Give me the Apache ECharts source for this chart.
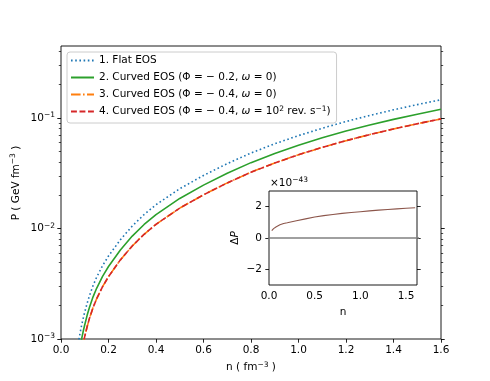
<!DOCTYPE html>
<html><head><meta charset="utf-8">
<script src="https://cdn.jsdelivr.net/npm/echarts@6/dist/echarts.min.js"></script>
<style>html,body{margin:0;padding:0;background:#fff}#c{width:490px;height:381px}</style>
</head><body><div id="c"></div>
<script>
// ---- data ----
const nMain = [0.07,0.075,0.08,0.085,0.09,0.095,0.1,0.11,0.12,0.135,0.15,0.175,0.2,0.25,0.3,0.35,0.4,0.5,0.6,0.7,0.8,0.9,1.0,1.1,1.2,1.3,1.4,1.5,1.6];
const pFlat = [0.000832,0.000977,0.001122,0.001274,0.001429,0.001589,0.001752,0.002106,0.002475,0.003044,0.003618,0.004608,0.005636,0.007913,0.01052,0.01337,0.01641,0.02291,0.0302,0.03864,0.0482,0.0584,0.0693,0.0808,0.0929,0.1054,0.1185,0.1321,0.1462];
const pCurved2 = [null,null,0.00083,0.000955,0.001082,0.001213,0.001347,0.001637,0.00194,0.002406,0.002877,0.003689,0.004532,0.006399,0.008536,0.01087,0.01337,0.0187,0.02467,0.03159,0.03943,0.0478,0.05674,0.06617,0.07609,0.08634,0.09708,0.1082,0.1198];
const pCurved3 = [null,null,null,null,0.000837,0.000945,0.001055,0.001292,0.00154,0.001923,0.002309,0.002975,0.003666,0.005197,0.00695,0.008866,0.01091,0.01528,0.02018,0.02585,0.03228,0.03915,0.04648,0.05421,0.06234,0.07075,0.07956,0.08867,0.09819];
const pCurved4 = [null,null,null,null,0.000837,0.000945,0.001055,0.001292,0.00154,0.001923,0.002309,0.002975,0.003666,0.005197,0.00695,0.008866,0.01091,0.01528,0.02018,0.02585,0.03228,0.03915,0.04648,0.05421,0.06234,0.07075,0.07956,0.08867,0.09819];
const nInset = [0.03,0.05,0.08,0.12,0.16,0.2,0.3,0.4,0.5,0.6,0.7,0.8,0.9,1.0,1.1,1.2,1.3,1.4,1.5,1.6];
const dP = [0.47,0.60,0.72,0.84,0.92,0.97,1.10,1.22,1.34,1.43,1.50,1.57,1.63,1.68,1.73,1.78,1.82,1.86,1.895,1.93];
const zeroLineX = [-0.035, 1.655];
const zeroLineY = [0, 0];
const seriesNames = ['1. Flat EOS','2. Curved EOS','3. Curved EOS','4. Curved EOS'];
const legendLabels = {
  '1. Flat EOS': '1. Flat EOS',
  '2. Curved EOS': '2. Curved EOS (Φ = − 0.2, {i|ω} = 0)',
  '3. Curved EOS': '3. Curved EOS (Φ = − 0.4, {i|ω} = 0)',
  '4. Curved EOS': '4. Curved EOS (Φ = − 0.4, {i|ω} = 10{sup|2} rev. s{sup|−1})'
};
const yMajor = [0.001, 0.01, 0.1];
const yMinor = [0.002,0.003,0.004,0.005,0.006,0.007,0.008,0.009,0.02,0.03,0.04,0.05,0.06,0.07,0.08,0.09,0.2,0.3,0.4];
const insetXTicks = [0, 0.5, 1.0, 1.5];
const insetYTicks = [-2, 0, 2];

// ---- styles ----
const FF = 'DejaVu Sans';
const FS = 10.5;
const rich = {
  sup: {fontSize: 7.5, fontFamily: FF, color: '#000', verticalAlign: 'top', lineHeight: 6},
  i: {fontStyle: 'italic', fontSize: FS, fontFamily: FF, color: '#000', lineHeight: 13},
  n: {fontSize: FS, fontFamily: FF, color: '#000', lineHeight: 13}
};
const tickStyle = {color: '#000', width: 0.85};
const zip = (a, b) => a.map((v, i) => [v, b[i]]);

function logY(pos, major) {
  return {
    type: 'log', logBase: 10, gridIndex: 0, position: pos, min: 0.001, max: 0.448,
    axisLine: {show: false}, splitLine: {show: false},
    axisTick: {show: true, inside: false, length: major ? 3.7 : 2.2, lineStyle: {color: '#000', width: major ? 0.9 : 0.7},
      customValues: major ? yMajor : yMinor},
    axisLabel: (major && pos === 'left') ? {
      show: true, customValues: yMajor, margin: 6, fontFamily: FF, fontSize: FS, color: '#000', lineHeight: 13,
      rich: rich,
      formatter: v => '10{sup|−' + Math.round(-Math.log10(v)) + '}'
    } : {show: false}
  };
}
const lineSeries = (name, data, color, type) => ({
  name: name, type: 'line', xAxisIndex: 0, yAxisIndex: 0, data: data, symbol: 'none', clip: true,
  connectNulls: false,
  lineStyle: {color: color, width: 1.6, type: type}, itemStyle: {color: color}
});

const chart = echarts.init(document.getElementById('c'), null, {renderer: 'canvas'});
chart.setOption({
  animation: false,
  backgroundColor: '#fff',
  textStyle: {fontFamily: FF},
  grid: [
    {left: 61, right: 49, top: 46, bottom: 42, show: true, borderColor: '#000', borderWidth: 0.9, backgroundColor: 'transparent'},
    {left: 269, width: 148, top: 191, height: 94, show: true, borderColor: '#000', borderWidth: 0.9, backgroundColor: '#fff', z: 5}
  ],
  legend: {
    orient: 'vertical', left: 67, top: 52, itemWidth: 23, itemHeight: 10, itemGap: 4,
    padding: [2, 6, 5, 3], backgroundColor: 'rgba(255,255,255,0.8)', borderColor: '#cccccc', borderWidth: 1, borderRadius: 3,
    itemStyle: {opacity: 0},
    textStyle: {fontFamily: FF, fontSize: FS, color: '#000', lineHeight: 13, rich: rich},
    formatter: name => legendLabels[name],
    data: seriesNames
  },
  xAxis: [
    {type: 'value', gridIndex: 0, min: 0, max: 1.6, interval: 0.2,
     axisLine: {show: false}, splitLine: {show: false},
     axisTick: {show: true, inside: false, length: 3.7, lineStyle: tickStyle},
     axisLabel: {margin: 6, fontFamily: FF, fontSize: FS, color: '#000', formatter: v => v.toFixed(1)},
     name: 'n ( fm{sup|−3} )', nameLocation: 'middle', nameGap: 22,
     nameTextStyle: {fontFamily: FF, fontSize: FS, color: '#000', lineHeight: 13, rich: rich}},
    {type: 'value', gridIndex: 1, min: 0, max: 1.62,
     axisLine: {show: false}, splitLine: {show: false},
     axisTick: {show: true, inside: false, length: 3.7, lineStyle: tickStyle, customValues: insetXTicks},
     axisLabel: {margin: 6, fontFamily: FF, fontSize: FS, color: '#000', customValues: insetXTicks, formatter: v => v.toFixed(1)},
     name: 'n', nameLocation: 'middle', nameGap: 22,
     nameTextStyle: {fontFamily: FF, fontSize: FS, color: '#000'}}
  ],
  yAxis: [
    logY('left', true), logY('left', false), logY('right', true), logY('right', false),
    {type: 'value', gridIndex: 1, position: 'left', min: -3, max: 3,
     axisLine: {show: false}, splitLine: {show: false},
     axisTick: {show: true, inside: false, length: 3.7, lineStyle: tickStyle, customValues: insetYTicks},
     axisLabel: {margin: 7, fontFamily: FF, fontSize: FS, color: '#000', customValues: insetYTicks,
       formatter: v => v < 0 ? '−' + (-v) : String(v)},
     name: '{n|Δ}{i|P}', nameLocation: 'middle', nameGap: 27,
     nameTextStyle: {fontFamily: FF, fontSize: FS, color: '#000', rich: rich}},
    {type: 'value', gridIndex: 1, position: 'right', min: -3, max: 3,
     axisLine: {show: false}, splitLine: {show: false},
     axisTick: {show: true, inside: false, length: 3.7, lineStyle: tickStyle, customValues: insetYTicks},
     axisLabel: {show: false}}
  ],
  series: [
    lineSeries(seriesNames[0], zip(nMain, pFlat), '#1f77b4', [1.6, 2.6]),
    lineSeries(seriesNames[1], zip(nMain, pCurved2), '#2ca02c', 'solid'),
    lineSeries(seriesNames[2], zip(nMain, pCurved3), '#ff7f0e', [9.6, 2.4, 1.6, 2.4]),
    lineSeries(seriesNames[3], zip(nMain, pCurved4), '#d62728', [5.9, 2.6]),
    {name: 'zero', type: 'line', xAxisIndex: 1, yAxisIndex: 4, data: zip(zeroLineX, zeroLineY), symbol: 'none', clip: false, z: 6,
     lineStyle: {color: '#808080', width: 1.5}, silent: true},
    {name: 'dP', type: 'line', xAxisIndex: 1, yAxisIndex: 4, data: zip(nInset, dP), symbol: 'none', clip: true, z: 6,
     lineStyle: {color: '#8c564b', width: 1.1}}
  ],
  graphic: [
    {type: 'text', x: 16, y: 183, rotation: Math.PI / 2, z: 10,
     style: {text: 'P ( GeV fm{sup|−3} )', fontFamily: FF, fontSize: FS, fill: '#000', align: 'center', verticalAlign: 'middle', lineHeight: 13, rich: rich}},
    {type: 'text', x: 270, y: 183, z: 10,
     style: {text: '×10{sup|−43}', fontFamily: FF, fontSize: FS, fill: '#000', align: 'left', verticalAlign: 'middle', lineHeight: 13, rich: rich}}
  ]
});
</script></body></html>
